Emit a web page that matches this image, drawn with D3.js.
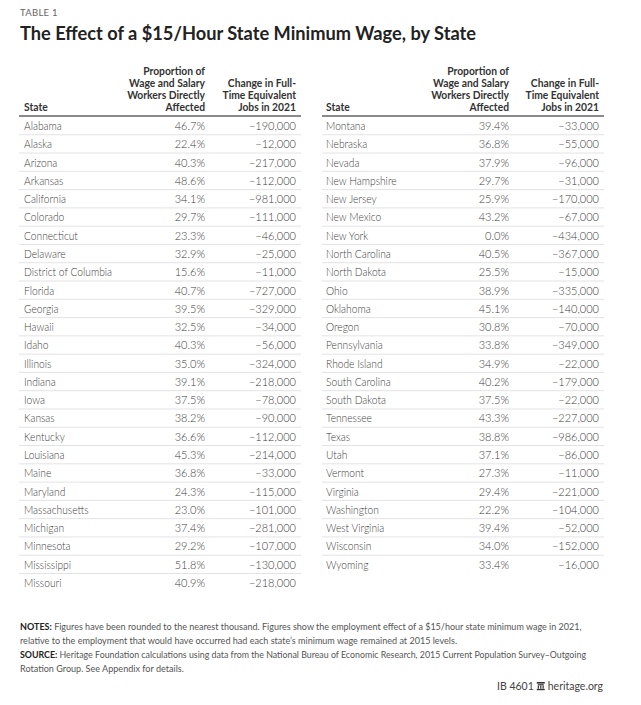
<!DOCTYPE html>
<html><head><meta charset="utf-8">
<script src="https://cdn.jsdelivr.net/npm/d3@7/dist/d3.min.js"></script>
<style>
html,body{margin:0;padding:0;background:#fff;}
svg{display:block;font-family:Lato,"Open Sans",sans-serif;}
</style></head>
<body><svg id="c" width="641" height="705"></svg>
<script>
const states = ["Alabama","Alaska","Arizona","Arkansas","California","Colorado","Connecticut","Delaware","District of Columbia","Florida","Georgia","Hawaii","Idaho","Illinois","Indiana","Iowa","Kansas","Kentucky","Louisiana","Maine","Maryland","Massachusetts","Michigan","Minnesota","Mississippi","Missouri",
"Montana","Nebraska","Nevada","New Hampshire","New Jersey","New Mexico","New York","North Carolina","North Dakota","Ohio","Oklahoma","Oregon","Pennsylvania","Rhode Island","South Carolina","South Dakota","Tennessee","Texas","Utah","Vermont","Virginia","Washington","West Virginia","Wisconsin","Wyoming"];
const proportion = [46.7,22.4,40.3,48.6,34.1,29.7,23.3,32.9,15.6,40.7,39.5,32.5,40.3,35.0,39.1,37.5,38.2,36.6,45.3,36.8,24.3,23.0,37.4,29.2,51.8,40.9,
39.4,36.8,37.9,29.7,25.9,43.2,0.0,40.5,25.5,38.9,45.1,30.8,33.8,34.9,40.2,37.5,43.3,38.8,37.1,27.3,29.4,22.2,39.4,34.0,33.4];
const jobs = [-190000,-12000,-217000,-112000,-981000,-111000,-46000,-25000,-11000,-727000,-329000,-34000,-56000,-324000,-218000,-78000,-90000,-112000,-214000,-33000,-115000,-101000,-281000,-107000,-130000,-218000,
-33000,-55000,-96000,-31000,-170000,-67000,-434000,-367000,-15000,-335000,-140000,-70000,-349000,-22000,-179000,-22000,-227000,-986000,-86000,-11000,-221000,-104000,-52000,-152000,-16000];
const headers = [["State"],["Proportion of","Wage and Salary","Workers Directly","Affected"],["Change in Full-","Time Equivalent","Jobs in 2021"]];
const label = "TABLE 1";
const title = "The Effect of a $15/Hour State Minimum Wage, by State";
const notes = [
  [["NOTES:",true],[" Figures have been rounded to the nearest thousand. Figures show the employment effect of a $15/hour state minimum wage in 2021,",false]],
  [["relative to the employment that would have occurred had each state\u2019s minimum wage remained at 2015 levels.",false]],
  [["SOURCE:",true],[" Heritage Foundation calculations using data from the National Bureau of Economic Research, 2015 Current Population Survey\u2013Outgoing",false]],
  [["Rotation Group. See Appendix for details.",false]]
];
const footerLeft = "IB 4601", footerRight = "heritage.org";

const svg = d3.select("#c");
const rows = states.map((s,i)=>({state:s, prop:proportion[i], jobs:jobs[i]}));
const tables = [rows.slice(0,26), rows.slice(26)];
const nRows = 26;
const y = d3.scaleLinear().domain([0, nRows]).range([116, 116 + nRows*18.28]);
const fmtP = d => d.toFixed(1) + "%";
const fmtJ = d => (d<0?"\u2212":"") + d3.format(",")(Math.abs(d));

svg.append("text").attr("x",20).attr("y",16).attr("font-size",9.5).attr("fill","#666").attr("letter-spacing",0.3).text(label);
svg.append("text").attr("x",20).attr("y",39.5).attr("font-size",19.5).attr("font-weight",700).attr("fill","#222")
  .attr("textLength",456).attr("lengthAdjust","spacingAndGlyphs").text(title);

const layouts = [
  {x0:19, x1:301, cols:[24, 205, 296]},
  {x0:322, x1:604, cols:[326, 509, 599]}
];
const headBase = [74.6, 86.8, 99, 111.2];

function squeeze(sel, f){
  sel.each(function(){ const w=this.getComputedTextLength(); d3.select(this).attr("textLength", w*f).attr("lengthAdjust","spacingAndGlyphs"); });
}

tables.forEach((data, t) => {
  const L = layouts[t];
  const g = svg.append("g");
  headers.forEach((lines, c) => {
    const off = 4 - lines.length;
    lines.forEach((ln, k) => {
      g.append("text")
        .attr("x", L.cols[c]).attr("y", headBase[k+off])
        .attr("text-anchor", c===0 ? "start" : "end")
        .attr("font-size", 11.2).attr("font-weight", 700).attr("fill","#333")
        .text(ln).call(squeeze, 0.92);
    });
  });
  g.selectAll("line.sep").data(data.slice(0, data.length-1)).enter().append("line")
    .attr("x1", L.x0).attr("x2", L.x1)
    .attr("y1", (d,i)=>y(i+1)+0.5).attr("y2",(d,i)=>y(i+1)+0.5)
    .attr("stroke","#e3e3e3").attr("stroke-width",1);
  g.append("line").attr("x1",L.x0).attr("x2",L.x1).attr("y1",y(0)).attr("y2",y(0))
    .attr("stroke","#8a8a8a").attr("stroke-width",2);
  const r = g.selectAll("g.row").data(data).enter().append("g")
    .attr("transform",(d,i)=>`translate(0,${y(i)+14})`);
  const ts = {"font-size":11, "font-weight":300, "fill":"#404040"};
  const apply = s => { Object.entries(ts).forEach(([k,v])=>s.attr(k,v)); return s; };
  apply(r.append("text").attr("x",L.cols[0]).text(d=>d.state)).call(squeeze,0.93);
  apply(r.append("text").attr("x",L.cols[1]).attr("text-anchor","end").text(d=>fmtP(d.prop)));
  apply(r.append("text").attr("x",L.cols[2]).attr("text-anchor","end").text(d=>fmtJ(d.jobs)));
});

// notes: one text per line, sized so the line spans the reference's width
const noteY = [630, 644, 657.5, 671.5];
const noteW = [562, 438, 567, 164];
notes.forEach((parts, i) => {
  const tx = svg.append("text").attr("x",20).attr("y",noteY[i]).attr("font-size",10).attr("fill","#555");
  parts.forEach(([s,b]) => tx.append("tspan").attr("font-weight", b?700:400).attr("fill", b?"#222":"#555").text(s));
  const w = tx.node().getComputedTextLength();
  tx.attr("font-size", Math.min(10, 10*noteW[i]/w));
});

// footer
const fy = 690;
const fr = svg.append("text").attr("x",603).attr("y",fy).attr("text-anchor","end").attr("font-size",10.5).attr("fill","#444").text(footerRight);
const frw = fr.node().getComputedTextLength();
const iconX = 603 - frw - 11;
const ic = svg.append("g").attr("transform",`translate(${iconX},${fy-8})`).attr("fill","#333");
ic.append("rect").attr("x",0).attr("y",0).attr("width",8).attr("height",1.6);
ic.append("rect").attr("x",1).attr("y",2.2).attr("width",6).attr("height",1.2);
[1,3.4,5.8].forEach(px=>ic.append("rect").attr("x",px).attr("y",3.6).attr("width",1.2).attr("height",3));
ic.append("rect").attr("x",0).attr("y",6.8).attr("width",8).attr("height",1.4);
svg.append("text").attr("x",iconX-3).attr("y",fy).attr("text-anchor","end").attr("font-size",10.5).attr("fill","#444").text(footerLeft);
</script></body></html>
